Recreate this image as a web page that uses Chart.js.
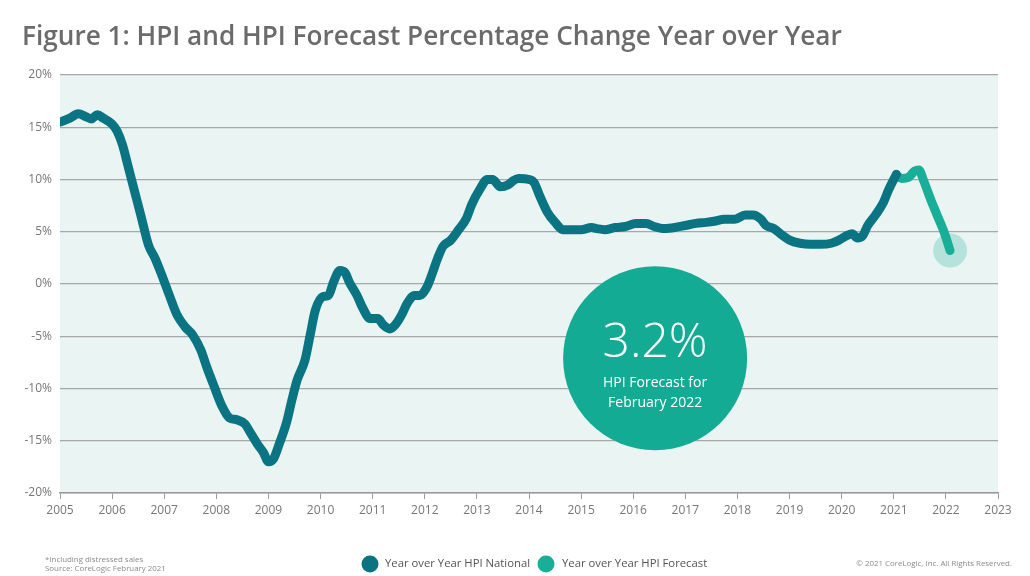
<!DOCTYPE html>
<html>
<head>
<meta charset="utf-8">
<script src="https://cdn.jsdelivr.net/npm/chart.js@4"></script>
<style>
  html, body { margin: 0; padding: 0; background: #ffffff; }
  #wrap { position: relative; width: 1030px; height: 576px; }
</style>
</head>
<body>
<div id="wrap"><canvas id="hpiChart" width="1030" height="576"></canvas></div>
<script>
// Year over Year HPI National (decimal year, %)
const nationalYears = [2005.0, 2005.2, 2005.35, 2005.5, 2005.6, 2005.72, 2005.82, 2006.0, 2006.1, 2006.2, 2006.3, 2006.45, 2006.55, 2006.7, 2006.82, 2006.95,
  2007.1, 2007.25, 2007.4, 2007.55, 2007.7, 2007.82, 2007.95, 2008.1, 2008.25, 2008.4, 2008.55, 2008.65, 2008.8, 2008.9, 2009.0, 2009.1,
  2009.2, 2009.35, 2009.45, 2009.55, 2009.7, 2009.8, 2009.9, 2010.05, 2010.15, 2010.25, 2010.37, 2010.47, 2010.55, 2010.7, 2010.8, 2010.95,
  2011.1, 2011.2, 2011.33, 2011.45, 2011.55, 2011.67, 2011.8, 2011.9, 2012.05, 2012.15, 2012.25, 2012.35, 2012.5, 2012.65, 2012.8, 2012.9,
  2013.05, 2013.2, 2013.3, 2013.45, 2013.6, 2013.7, 2013.8, 2014.0, 2014.1, 2014.2, 2014.35, 2014.5, 2014.65, 2014.8, 2015.0, 2015.2,
  2015.3, 2015.45, 2015.65, 2015.85, 2016.05, 2016.25, 2016.4, 2016.6, 2016.8, 2017.0, 2017.2, 2017.4, 2017.55, 2017.75, 2017.95, 2018.15,
  2018.3, 2018.45, 2018.55, 2018.7, 2018.85, 2019.0, 2019.2, 2019.4, 2019.6, 2019.8, 2019.95, 2020.05, 2020.2, 2020.3, 2020.4, 2020.5,
  2020.65, 2020.8, 2020.9, 2021.05];
const nationalValues = [15.5, 15.9, 16.3, 16.0, 15.8, 16.2, 15.9, 15.3, 14.6, 13.3, 11.4, 8.5, 6.6, 3.7, 2.5, 0.9,
  -1.1, -3.0, -4.1, -4.9, -6.3, -8.0, -9.7, -11.6, -12.8, -13.0, -13.4, -14.2, -15.4, -16.1, -17.0, -16.7,
  -15.4, -13.2, -11.1, -9.2, -7.3, -4.9, -2.5, -1.2, -1.1, 0.2, 1.3, 1.1, 0.2, -1.1, -2.2, -3.3,
  -3.3, -3.9, -4.3, -3.8, -3.0, -1.8, -1.1, -1.1, -0.2, 1.1, 2.5, 3.6, 4.2, 5.2, 6.3, 7.6,
  9.0, 10.0, 10.0, 9.3, 9.5, 9.9, 10.1, 10.0, 9.7, 8.5, 6.9, 5.9, 5.2, 5.2, 5.2, 5.4,
  5.3, 5.2, 5.4, 5.5, 5.8, 5.8, 5.5, 5.3, 5.4, 5.6, 5.8, 5.9, 6.0, 6.2, 6.2, 6.6,
  6.6, 6.2, 5.6, 5.3, 4.7, 4.2, 3.9, 3.8, 3.8, 3.9, 4.2, 4.5, 4.8, 4.4, 4.6, 5.6,
  6.6, 7.8, 9.0, 10.5];

// Year over Year HPI Forecast
const forecastYears = [2021.05, 2021.15, 2021.28, 2021.4, 2021.48, 2021.58, 2021.7, 2021.83, 2021.97, 2022.08];
const forecastValues = [10.4, 10.1, 10.2, 10.8, 10.9, 9.8, 8.2, 6.6, 4.9, 3.2];

const yearTicks = [2005, 2006, 2007, 2008, 2009, 2010, 2011, 2012, 2013, 2014, 2015, 2016, 2017, 2018, 2019, 2020, 2021, 2022, 2023];
const pctTicks = [-20, -15, -10, -5, 0, 5, 10, 15, 20];

const titleText = 'Figure 1: HPI and HPI Forecast Percentage Change Year over Year';
const calloutValue = '3.2%';
const calloutLines = ['HPI Forecast for', 'February 2022'];
const legendLabels = ['Year over Year HPI National', 'Year over Year HPI Forecast'];
const footLeft = ['*Including distressed sales', 'Source: CoreLogic February 2021'];
const footRight = '\u00A9 2021 CoreLogic, Inc. All Rights Reserved.';

const NATIONAL = '#0b7482';
const FORECAST = '#19ae98';
const FONT = '"Open Sans", "Noto Sans", sans-serif';

function toPoints(xs, ys) {
  return xs.map((x, i) => ({ x: x, y: ys[i] }));
}

// background, callout bubble, forecast end glow
const decorPlugin = {
  id: 'decor',
  beforeDraw: function(chart) {
    const a = chart.chartArea;
    const ctx = chart.ctx;
    ctx.save();
    ctx.fillStyle = '#eaf5f3';
    ctx.fillRect(a.left, a.top, a.right - a.left, a.bottom - a.top);
    ctx.restore();
  },
  beforeDatasetsDraw: function(chart) {
    const ctx = chart.ctx;
    const xs = chart.scales.x, ys = chart.scales.y;
    const last = forecastYears.length - 1;
    ctx.save();
    ctx.fillStyle = 'rgba(25,174,152,0.25)';
    ctx.beginPath();
    ctx.arc(xs.getPixelForValue(forecastYears[last]), ys.getPixelForValue(forecastValues[last]), 17, 0, Math.PI * 2);
    ctx.fill();
    ctx.restore();
  },
  afterDraw: function(chart) {
    const ctx = chart.ctx;
    const xs = chart.scales.x, ys = chart.scales.y;
    ctx.save();

    // callout bubble
    const cx = xs.getPixelForValue(2016.42), cy = ys.getPixelForValue(-7.1);
    ctx.fillStyle = '#13ab94';
    ctx.beginPath();
    ctx.arc(cx, cy, 92, 0, Math.PI * 2);
    ctx.fill();
    ctx.fillStyle = '#ffffff';
    ctx.textAlign = 'center';
    ctx.textBaseline = 'alphabetic';
    ctx.font = '300 48px ' + FONT;
    ctx.fillText(calloutValue, cx, cy - 1);
    ctx.font = '400 14px ' + FONT;
    ctx.fillText(calloutLines[0], cx, cy + 29);
    ctx.fillText(calloutLines[1], cx, cy + 49);

    // title
    ctx.textAlign = 'left';
    ctx.fillStyle = '#6b6b6b';
    ctx.font = '600 26.2px ' + FONT;
    ctx.fillText(titleText, 22, 45);

    // legend
    ctx.font = '400 11.3px ' + FONT;
    ctx.textBaseline = 'middle';
    ctx.fillStyle = NATIONAL;
    ctx.beginPath(); ctx.arc(370, 564, 8.5, 0, Math.PI * 2); ctx.fill();
    ctx.fillStyle = '#555555';
    ctx.fillText(legendLabels[0], 385, 564);
    ctx.fillStyle = FORECAST;
    ctx.beginPath(); ctx.arc(546, 564, 8.5, 0, Math.PI * 2); ctx.fill();
    ctx.fillStyle = '#555555';
    ctx.fillText(legendLabels[1], 562, 564);

    // footnotes
    ctx.font = '400 7.9px ' + FONT;
    ctx.fillStyle = '#8a8a8a';
    ctx.fillText(footLeft[0], 45, 560);
    ctx.fillText(footLeft[1], 45, 569);
    ctx.textAlign = 'right';
    ctx.fillText(footRight, 1012, 564);
    ctx.restore();
  }
};

const ctx = document.getElementById('hpiChart').getContext('2d');
const chart = new Chart(ctx, {
  type: 'line',
  data: {
    datasets: [{
      label: legendLabels[0],
      data: toPoints(nationalYears, nationalValues),
      borderColor: NATIONAL,
      borderWidth: 9,
      borderCapStyle: 'round',
      borderJoinStyle: 'round',
      cubicInterpolationMode: 'monotone',
      pointRadius: 0
    },
    {
      label: legendLabels[1],
      data: toPoints(forecastYears, forecastValues),
      borderColor: FORECAST,
      borderWidth: 9,
      borderCapStyle: 'round',
      borderJoinStyle: 'round',
      cubicInterpolationMode: 'monotone',
      pointRadius: 0
    }]
  },
  options: {
    responsive: false,
    animation: false,
    layout: { padding: { left: 0, right: 32, top: 75, bottom: 0 } },
    plugins: {
      legend: { display: false },
      tooltip: { enabled: false }
    },
    scales: {
      x: {
        type: 'linear',
        min: 2005,
        max: 2023,
        afterFit: function(scale) { scale.height = 83; },
        afterBuildTicks: function(scale) { scale.ticks = yearTicks.map(v => ({ value: v })); },
        ticks: {
          color: '#777777',
          font: { family: FONT, size: 12 },
          padding: 4,
          maxRotation: 0,
          callback: function(v) { return String(v); }
        },
        grid: { drawOnChartArea: false, drawTicks: true, tickLength: 6, color: '#9a9a9a' },
        border: { display: true, color: '#9a9a9a', width: 1.5 }
      },
      y: {
        min: -20,
        max: 20,
        afterFit: function(scale) { scale.width = 60; },
        afterBuildTicks: function(scale) { scale.ticks = pctTicks.map(v => ({ value: v })); },
        ticks: {
          color: '#777777',
          font: { family: FONT, size: 12 },
          padding: 8,
          callback: function(v) { return v + '%'; }
        },
        grid: { color: '#a8a8a8', lineWidth: 1.3, drawTicks: false },
        border: { display: false }
      }
    }
  },
  plugins: [decorPlugin]
});
</script>
</body>
</html>
